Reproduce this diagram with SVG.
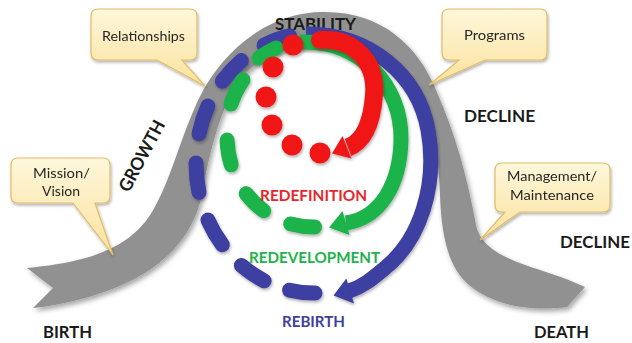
<svg xmlns="http://www.w3.org/2000/svg" width="632" height="343" viewBox="0 0 632 343">
<defs>
<linearGradient id="cg" x1="0" y1="0" x2="0" y2="1"><stop offset="0" stop-color="#fef7db"/><stop offset="1" stop-color="#fbe29d"/></linearGradient>
<filter id="sh" x="-10%" y="-10%" width="125%" height="130%"><feDropShadow dx="2" dy="3" stdDeviation="2.5" flood-color="#000" flood-opacity="0.35"/></filter>
<filter id="sh2" x="-10%" y="-10%" width="125%" height="130%"><feDropShadow dx="1" dy="2" stdDeviation="1.5" flood-color="#000" flood-opacity="0.3"/></filter>
</defs>
<style>
.lbl{font-family:Lato,"Liberation Sans",sans-serif;font-weight:700;font-size:17px;fill:#1a1a1a}
.call{fill:url(#cg);stroke:#e0bd68;stroke-width:1.2}
.ct{font-family:Lato,"Liberation Sans",sans-serif;font-size:14px;fill:#262626}
.bd{fill:none;stroke:#3c3fa0;stroke-width:15;stroke-linecap:round}
.gd{fill:none;stroke:#1fb34b;stroke-width:15;stroke-linecap:round}
.rd{fill:#f01818}
</style>

<g id="band" filter="url(#sh)">
<path fill="#919191" d="M 27,268 C 90,262 130,248 152,212 C 170,182 180,140 196,105 C 214,63 258,14 320,12 C 380,10 418,45 436,90 C 456,135 468,180 476,225 C 484,262 540,265 585,287 L 567,307 C 530,312 485,305 462,278 C 445,258 441,225 440,195 C 439,150 430,110 405,78 C 385,56 355,46 320,46 C 282,46 252,60 236,86 C 220,112 210,150 203,190 C 193,245 150,290 43,307 L 33,308 L 53,288 Z"/>
</g>

<g id="callout-relationships" filter="url(#sh2)">
<path class="call" d="M 98,9 H 190 Q 197,9 197,16 V 53 Q 197,60 190,60 H 182 L 205,86 L 157,60 H 98 Q 91,60 91,53 V 16 Q 91,9 98,9 Z"/>
<text class="ct" x="102" y="41" textLength="83" lengthAdjust="spacingAndGlyphs">Relationships</text>
</g>
<g id="callout-programs" filter="url(#sh2)">
<path class="call" d="M 449,9 H 540 Q 547,9 547,16 V 53 Q 547,60 540,60 H 485 L 429,85 L 459,60 H 449 Q 442,60 442,53 V 16 Q 442,9 449,9 Z"/>
<text class="ct" x="464" y="40" textLength="61" lengthAdjust="spacingAndGlyphs">Programs</text>
</g>
<g id="callout-mission" filter="url(#sh2)">
<path class="call" d="M 18,158 H 103 Q 110,158 110,165 V 196 Q 110,203 103,203 H 95 L 113,255 L 73,203 H 18 Q 11,203 11,196 V 165 Q 11,158 18,158 Z"/>
<text class="ct" x="33" y="178" textLength="57" lengthAdjust="spacingAndGlyphs">Mission/</text>
<text class="ct" x="42" y="196" textLength="38" lengthAdjust="spacingAndGlyphs">Vision</text>
</g>
<g id="callout-management" filter="url(#sh2)">
<path class="call" d="M 502,163 H 603 Q 610,163 610,170 V 205 Q 610,212 603,212 H 520 L 480,240 L 505,212 H 502 Q 495,212 495,205 V 170 Q 495,163 502,163 Z"/>
<text class="ct" x="507" y="181" textLength="90" lengthAdjust="spacingAndGlyphs">Management/</text>
<text class="ct" x="510" y="200" textLength="84" lengthAdjust="spacingAndGlyphs">Maintenance</text>
</g>

<g id="stage-labels">
<text class="lbl" x="275" y="30" textLength="81" lengthAdjust="spacingAndGlyphs">STABILITY</text>
<text class="lbl" x="464" y="122" textLength="71" lengthAdjust="spacingAndGlyphs">DECLINE</text>
<text class="lbl" x="560" y="248" textLength="70" lengthAdjust="spacingAndGlyphs">DECLINE</text>
<text class="lbl" x="43" y="338" textLength="49" lengthAdjust="spacingAndGlyphs">BIRTH</text>
<text class="lbl" x="534" y="338" textLength="55" lengthAdjust="spacingAndGlyphs">DEATH</text>
<text class="lbl" transform="translate(142,156) rotate(-62)" x="-39" y="6" textLength="78" lengthAdjust="spacingAndGlyphs" style="font-size:18px">GROWTH</text>
</g>

<g id="connectors">
<g id="cycle-blue" filter="url(#sh2)">
<path class="bd" d="M 315,293 A 118 130 0 0 1 289.5,290.2"/>
<path class="bd" d="M 264.1,280.8 A 118 130 0 0 1 241.4,265.4"/>
<path class="bd" d="M 222.3,244.8 A 118 130 0 0 1 207.9,220"/>
<path class="bd" d="M 199,192.3 A 118 130 0 0 1 196,163"/>
<path class="bd" d="M 199,133.8 A 118 130 0 0 1 207.9,106"/>
<path class="bd" d="M 222.3,81.2 A 118 130 0 0 1 241.4,60.6"/>
<path class="bd" d="M 264.1,45.2 A 118 130 0 0 1 289.5,35.8"/>
<path fill="none" stroke="#3c3fa0" stroke-width="15" d="M 306,34 C 370,34 418,75 428,130 C 438,185 420,240 385,268 C 372,279 362,287 349,291"/>
<polygon fill="#3c3fa0" points="333.5,295.5 346.3,278.5 354,303.5"/>
</g>
<g id="cycle-green" filter="url(#sh2)">
<path class="gd" d="M 314.5,227 A 86 90 0 0 1 290.7,223.9"/>
<path class="gd" d="M 263.7,210.7 A 86 90 0 0 1 246.2,193.6"/>
<path class="gd" d="M 231.2,164.8 A 86 90 0 0 1 227.1,140.1"/>
<path class="gd" d="M 231,104 A 86 90 0 0 1 243,80"/>
<path class="gd" d="M 259,58 A 86 90 0 0 1 276,48"/>
<path fill="none" stroke="#1fb34b" stroke-width="15" d="M 300,42 C 360,40 402,85 401,140 C 400,185 380,218 346,223"/>
<polygon fill="#1fb34b" points="329,227.5 342.5,211 349.5,235"/>
</g>
<g id="cycle-red" filter="url(#sh2)">
<circle class="rd" cx="293" cy="45" r="10.5"/>
<circle class="rd" cx="273" cy="67" r="10.5"/>
<circle class="rd" cx="266" cy="97" r="10.5"/>
<circle class="rd" cx="272" cy="125" r="10.5"/>
<circle class="rd" cx="292" cy="145" r="10.5"/>
<circle class="rd" cx="320" cy="153" r="10.5"/>
<circle class="rd" cx="320" cy="40" r="9"/>
<path fill="none" stroke="#f01818" stroke-width="18" d="M 320,40 C 352,38 377,60 374,95 C 372,122 365,141 348,147.5"/>
<polygon class="rd" points="332,153.5 342.5,136 351.5,158.5"/>
</g>
</g>

<g id="cycle-labels">
<text x="260" y="201" textLength="107" lengthAdjust="spacingAndGlyphs" style="font-family:Lato,'Liberation Sans',sans-serif;font-weight:700;font-size:15px;fill:#e8262a">REDEFINITION</text>
<text x="249" y="263" textLength="131" lengthAdjust="spacingAndGlyphs" style="font-family:Lato,'Liberation Sans',sans-serif;font-weight:700;font-size:15px;fill:#22b24c">REDEVELOPMENT</text>
<text x="282" y="327" textLength="63" lengthAdjust="spacingAndGlyphs" style="font-family:Lato,'Liberation Sans',sans-serif;font-weight:700;font-size:15px;fill:#3c3f9c">REBIRTH</text>
</g>
</svg>
